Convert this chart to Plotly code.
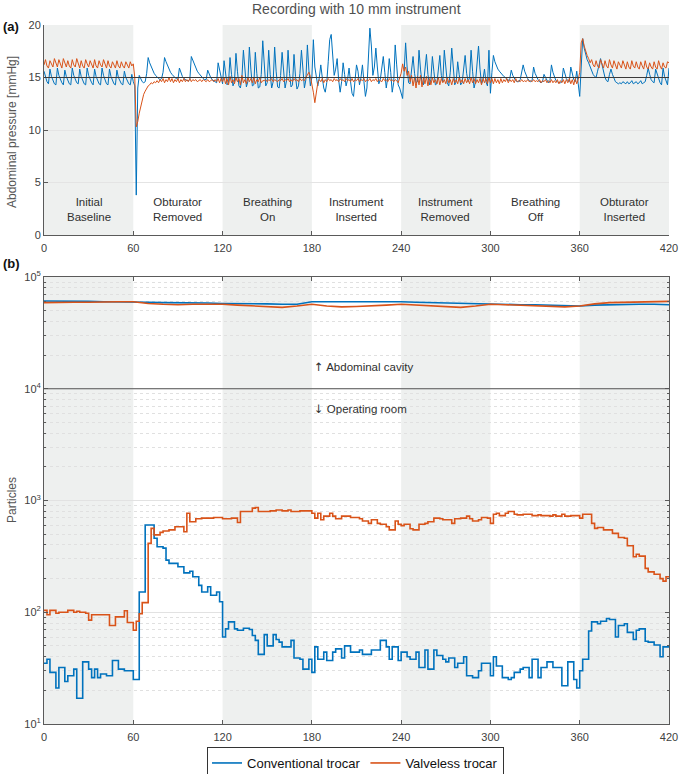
import numpy as np
import plotly.graph_objects as go

# ---------------- data ----------------
phase_edges = [0, 60, 120, 180, 240, 300, 360, 420]
phase_labels = ["Initial<br>Baseline", "Obturator<br>Removed", "Breathing<br>On",
                "Instrument<br>Inserted", "Instrument<br>Removed", "Breathing<br>Off",
                "Obturator<br>Inserted"]
x_ticks = [0, 60, 120, 180, 240, 300, 360, 420]

# Abdominal pressure, 1 s sampling (t = 0..420)
pressure_conventional = [
    15.6, 15.0, 14.6, 14.4, 15.8, 15.1, 14.7, 14.4, 14.3, 15.9,
    15.2, 14.8, 14.5, 14.3, 15.7, 15.1, 14.7, 14.4, 14.3, 15.9,
    15.2, 14.8, 14.5, 14.4, 15.8, 15.1, 14.7, 14.4, 14.3, 15.9,
    15.2, 14.8, 14.5, 14.3, 15.8, 15.1, 14.7, 14.4, 14.3, 15.9,
    15.2, 14.7, 14.4, 14.3, 15.8, 15.1, 14.7, 14.4, 14.3, 15.7,
    15.0, 14.6, 14.4, 14.3, 15.6, 15.0, 14.6, 14.4, 14.3, 15.3,
    14.6, 14.2, 3.8, 14.0, 15.2, 14.8, 14.6, 14.5, 14.6, 15.4,
    16.9, 16.4, 16.0, 15.7, 15.4, 15.2, 15.0, 14.9, 14.8, 14.9,
    15.5, 16.9, 16.5, 16.1, 15.8, 15.5, 15.3, 15.1, 15.0, 14.9,
    14.8, 15.9, 15.4, 15.1, 14.9, 14.8, 14.7, 14.7, 14.8, 17.0,
    16.6, 16.2, 15.9, 15.6, 15.4, 15.2, 15.0, 14.9, 14.8, 14.8,
    15.7, 15.3, 15.0, 14.8, 14.7, 14.6, 14.5, 16.4, 15.6, 14.8,
    14.4, 16.6, 15.2, 14.3, 14.5, 16.9, 15.3, 14.2, 14.6, 17.3,
    15.6, 14.2, 14.0, 15.0, 17.6, 15.5, 14.1, 14.6, 17.9, 15.8,
    14.2, 14.3, 17.4, 15.4, 14.0, 14.1, 15.3, 18.5, 15.9, 14.2,
    14.5, 17.6, 15.3, 14.0, 14.6, 17.9, 15.6, 14.1, 14.0, 15.2,
    17.4, 15.2, 14.0, 14.7, 17.6, 15.4, 14.1, 14.3, 17.2, 15.1,
    13.9, 14.2, 15.4, 17.6, 15.3, 14.0, 14.8, 18.1, 15.7, 14.2,
    15.0, 18.6, 16.0, 15.0, 14.2, 15.0, 16.2, 15.0, 14.0, 13.6,
    14.5, 16.5, 18.6, 19.1, 17.2, 15.2, 15.8, 16.8, 14.8, 13.6,
    14.6, 16.4, 15.3, 14.2, 14.8, 15.9, 14.6, 13.5, 13.2, 14.5,
    16.2, 15.6, 14.3, 15.0, 16.2, 14.6, 13.2, 14.0, 17.5, 19.7,
    18.0, 15.2, 16.0, 17.8, 16.0, 14.4, 14.8, 16.2, 17.0, 15.5,
    14.0, 15.0, 16.8, 15.5, 13.6, 14.5, 18.1, 16.2, 14.3, 14.0,
    13.5, 13.0, 15.5, 18.3, 16.0, 14.5, 14.4, 15.5, 17.0, 15.4,
    14.5, 14.6, 17.6, 15.8, 14.5, 14.3, 15.5, 17.2, 15.3, 14.3,
    14.8, 17.0, 15.6, 14.3, 14.4, 15.5, 17.1, 15.2, 14.6, 17.6,
    15.8, 14.5, 14.2, 15.5, 17.8, 15.6, 14.3, 14.6, 16.5, 15.3,
    14.3, 14.5, 15.8, 17.1, 15.4, 14.6, 15.0, 17.6, 15.6, 14.0,
    14.6, 16.2, 18.0, 15.8, 14.4, 14.8, 15.8, 14.6, 14.2, 17.6,
    13.5, 15.5, 17.1, 16.5, 16.1, 15.8, 15.6, 15.4, 15.3, 15.1,
    15.0, 14.8, 14.7, 14.9, 15.7, 15.2, 14.9, 14.7, 14.6, 14.6,
    14.8, 15.5, 16.2, 15.6, 15.2, 14.9, 14.7, 14.6, 14.7, 16.0,
    15.4, 15.0, 14.8, 14.6, 14.5, 14.6, 15.3, 15.0, 14.7, 14.5,
    14.7, 16.2, 15.5, 15.0, 14.7, 14.6, 14.5, 14.5, 14.6, 15.9,
    15.3, 14.9, 14.7, 14.6, 16.0, 15.3, 14.8, 14.6, 15.6, 14.4,
    13.2, 16.0, 18.7, 17.8, 17.2, 16.7, 16.4, 16.0, 15.6, 15.3,
    15.1, 15.0, 15.6, 16.3, 16.8, 16.2, 15.5, 15.0, 14.7, 14.6,
    15.3, 15.8, 15.3, 14.9, 14.6, 14.5, 14.4, 14.5, 14.4, 14.6,
    14.5, 14.4, 14.6, 14.4, 14.5, 14.7, 14.4, 14.5, 14.6, 14.4,
    14.5, 14.7, 14.4, 14.5, 14.6, 15.2, 15.9, 15.3, 14.8, 14.6,
    14.5, 15.8, 15.3, 14.8, 14.5, 14.3, 15.9, 15.1, 14.6, 14.3,
    15.9,
]

pressure_valveless = [
    16.2, 16.7, 16.1, 15.9, 16.6, 16.2, 16.0, 16.8, 16.3, 16.0,
    16.7, 16.2, 15.9, 16.8, 16.3, 16.0, 16.6, 16.1, 15.9, 16.7,
    16.2, 16.0, 16.8, 16.2, 15.9, 16.6, 16.1, 15.9, 16.7, 16.3,
    16.0, 16.6, 16.2, 15.9, 16.7, 16.1, 15.9, 16.6, 16.2, 16.0,
    16.7, 16.2, 15.9, 16.6, 16.1, 15.9, 16.5, 16.2, 15.9, 16.6,
    16.1, 15.9, 16.5, 16.1, 15.9, 16.5, 16.2, 15.9, 16.5, 16.1,
    16.3, 15.0, 10.3, 10.8, 11.6, 12.3, 12.9, 13.4, 13.7, 14.0,
    14.2, 14.3, 14.5, 14.4, 14.6, 14.5, 14.7, 14.5, 14.8, 14.6,
    14.9, 14.5, 14.8, 14.6, 15.0, 14.6, 14.9, 14.5, 14.8, 14.6,
    14.9, 14.5, 14.8, 14.6, 14.9, 14.6, 14.8, 14.6, 14.9, 14.6,
    14.8, 14.7, 14.8, 14.6, 14.7, 14.8, 14.6, 14.8, 14.7, 14.6,
    14.8, 14.6, 14.7, 14.8, 14.6, 14.8, 14.6, 14.9, 14.5, 14.9,
    14.6, 15.0, 14.4, 14.9, 14.3, 15.1, 14.5, 14.8, 14.4, 15.0,
    14.6, 14.9, 14.3, 15.2, 14.5, 14.8, 14.4, 15.0, 14.6, 14.9,
    14.5, 15.0, 14.4, 14.8, 14.6, 15.0, 14.5, 14.7, 14.7, 14.8,
    14.6, 14.8, 14.7, 14.9, 14.6, 14.8, 14.7, 14.6, 14.8, 14.7,
    14.9, 14.6, 14.8, 14.7, 14.9, 14.6, 14.8, 14.6, 14.9, 14.7,
    14.8, 14.6, 14.9, 14.7, 14.8, 14.7, 15.0, 15.3, 15.5, 15.1,
    14.4, 13.6, 12.6, 13.8, 14.5, 14.8, 14.6, 14.9, 14.5, 14.8,
    14.6, 14.9, 14.7, 14.8, 14.6, 14.9, 14.7, 14.8, 14.6, 14.9,
    14.7, 14.8, 14.6, 14.9, 14.7, 14.8, 14.6, 14.9, 14.6, 14.8,
    14.7, 14.9, 14.6, 14.8, 14.7, 14.9, 14.6, 14.8, 14.7, 14.9,
    14.6, 14.8, 14.7, 14.9, 14.6, 14.8, 14.7, 14.6, 14.9, 14.7,
    14.8, 14.6, 14.9, 14.7, 14.8, 14.6, 14.8, 14.7, 14.5, 14.9,
    15.4, 16.3, 15.6, 16.0, 15.2, 15.6, 14.6, 15.2, 14.2, 15.0,
    14.0, 15.1, 14.3, 15.2, 14.1, 15.0, 14.4, 15.1, 14.2, 14.9,
    14.3, 15.0, 14.5, 14.8, 14.4, 15.0, 14.3, 14.9, 14.5, 14.8,
    14.4, 15.0, 14.5, 14.8, 14.3, 14.9, 14.5, 14.8, 14.4, 15.0,
    14.5, 14.8, 14.4, 14.9, 14.5, 14.8, 14.4, 15.0, 14.5, 14.9,
    14.4, 14.8, 14.5, 14.9, 14.3, 14.9, 14.5, 14.9, 14.4, 15.0,
    14.5, 14.9, 14.4, 14.9, 14.5, 14.8, 14.4, 14.9, 14.5, 14.8,
    14.6, 14.9, 14.5, 14.8, 14.6, 14.8, 14.5, 14.9, 14.6, 14.7,
    14.6, 14.8, 14.6, 14.7, 14.6, 14.8, 14.6, 14.7, 14.6, 14.8,
    14.6, 14.7, 14.6, 14.8, 14.5, 14.7, 14.6, 14.8, 14.5, 14.7,
    14.5, 14.8, 14.5, 14.7, 14.5, 14.8, 14.4, 14.7, 14.5, 14.8,
    14.4, 14.8, 14.5, 14.9, 14.4, 14.8, 14.3, 14.9, 14.4, 14.8,
    15.5, 18.3, 18.7, 18.0, 17.5, 17.1, 16.8, 16.4, 16.7, 16.2,
    16.0, 16.6, 16.1, 15.9, 16.7, 16.2, 15.9, 16.6, 16.1, 15.9,
    16.7, 16.2, 15.9, 16.6, 16.1, 15.8, 16.5, 16.1, 15.9, 16.6,
    16.1, 15.8, 16.5, 16.0, 15.8, 16.6, 16.1, 15.9, 16.5, 16.0,
    15.8, 16.5, 16.1, 15.8, 16.6, 16.0, 15.8, 16.4, 16.0, 15.8,
    16.5, 16.0, 15.8, 16.6, 16.1, 15.8, 16.4, 16.0, 15.9, 16.5,
    16.4,
]

# Particles in operating room, 2 s steps (t = 0, 2, ..., 420)
room_conventional = [
    35, 38, 29, 29, 21, 32, 32, 24, 27, 27,
    31, 17, 17, 36, 36, 31, 26, 31, 26, 28,
    28, 27, 27, 37, 37, 31, 31, 30, 30, 30,
    25, 25, 152, 152, 604, 604, 604, 459, 386, 386,
    375, 293, 274, 274, 274, 255, 255, 225, 225, 233,
    208, 208, 174, 152, 152, 169, 142, 142, 152, 124,
    60, 71, 82, 82, 71, 69, 69, 72, 72, 70,
    62, 56, 42, 42, 63, 50, 50, 63, 57, 54,
    49, 49, 49, 56, 39, 39, 38, 31, 31, 38,
    29, 49, 38, 38, 44, 37, 37, 44, 47, 47,
    39, 50, 50, 44, 44, 44, 46, 42, 42, 42,
    46, 46, 46, 56, 56, 49, 38, 49, 49, 37,
    44, 44, 40, 38, 38, 44, 32, 32, 46, 31,
    31, 46, 41, 41, 38, 36, 39, 39, 32, 35,
    35, 40, 27, 27, 26, 26, 30, 35, 35, 35,
    27, 40, 33, 33, 26, 26, 25, 26, 29, 29,
    31, 32, 32, 26, 38, 38, 26, 32, 32, 36,
    36, 32, 32, 32, 22, 22, 36, 36, 25, 21,
    30, 38, 38, 68, 82, 82, 79, 83, 83, 88,
    86, 86, 60, 76, 76, 79, 66, 66, 57, 69,
    71, 71, 55, 54, 54, 51, 51, 40, 49, 49,
    49,
]
room_valveless = [
    104, 95, 104, 104, 98, 100, 100, 100, 104, 104,
    100, 102, 100, 100, 98, 85, 95, 95, 95, 95,
    95, 95, 76, 76, 91, 91, 91, 103, 81, 81,
    69, 83, 97, 122, 122, 413, 563, 492, 492, 519,
    533, 533, 546, 546, 583, 583, 583, 525, 770, 646,
    646, 686, 686, 695, 695, 695, 695, 705, 705, 705,
    686, 686, 686, 695, 695, 636, 796, 796, 796, 796,
    855, 867, 796, 796, 796, 796, 808, 808, 822, 822,
    808, 808, 822, 796, 796, 796, 808, 808, 808, 808,
    770, 695, 770, 672, 724, 724, 770, 724, 686, 686,
    724, 724, 724, 705, 705, 705, 686, 656, 656, 624,
    672, 672, 624, 613, 613, 583, 546, 546, 656, 613,
    596, 613, 613, 558, 546, 546, 613, 613, 624, 646,
    646, 695, 695, 686, 672, 672, 672, 624, 686, 686,
    695, 695, 724, 686, 656, 656, 672, 705, 705, 695,
    624, 754, 770, 732, 732, 770, 796, 796, 754, 743,
    743, 754, 754, 754, 732, 732, 743, 732, 732, 732,
    724, 743, 724, 724, 754, 724, 724, 732, 732, 732,
    695, 754, 754, 754, 624, 563, 573, 573, 546, 546,
    546, 508, 508, 466, 466, 459, 394, 394, 314, 330,
    318, 318, 247, 230, 230, 219, 219, 200, 190, 208,
    208,
]

# Particles in abdominal cavity, 10 s sampling (t = 0, 10, ..., 420)
cavity_conventional = [
    61000, 61000, 60500, 60500, 60000, 60000, 60000, 59500, 59000, 59000,
    58500, 58500, 58000, 58000, 57500, 57500, 57000, 57000, 60000, 60000,
    60500, 60500, 60500, 60000, 60000, 59500, 59000, 58500, 58000, 57500,
    57000, 57000, 56500, 56500, 56000, 55500, 55000, 56000, 56500, 57000,
    57000, 57000, 56500,
]
cavity_valveless = [
    59000, 59500, 59500, 59500, 60000, 60000, 60000, 58000, 57000, 56500,
    57000, 57000, 57000, 56000, 55000, 54500, 53500, 55000, 57000, 55000,
    54000, 54500, 55000, 56000, 57000, 56000, 55000, 54000, 53500, 55000,
    57000, 56500, 56000, 55500, 54500, 54000, 55000, 57500, 59000, 59500,
    60000, 60000, 60500,
]

for name, arr, n in [("pc", pressure_conventional, 421), ("pv", pressure_valveless, 421),
                     ("rc", room_conventional, 211), ("rv", room_valveless, 211),
                     ("cc", cavity_conventional, 43), ("cv", cavity_valveless, 43)]:
    if len(arr) != n:
        raise ValueError(f"{name}: {len(arr)} != {n}")

t_pressure = np.arange(len(pressure_conventional))
t_room = np.arange(len(room_conventional)) * 2
t_cavity = np.arange(len(cavity_conventional)) * 10

BLUE = "#0072BD"
ORANGE = "#D95319"
FONT = "Liberation Sans, Arial, Helvetica, sans-serif"
TXT = "#404040"

W, H = 685, 774
def px_x(p): return p / W
def px_y(p): return 1 - p / H

xdom = [px_x(44), px_x(669)]
ydom_top = [px_y(235), px_y(25)]
ydom_bot = [px_y(724), px_y(277)]

fig = go.Figure()

# top panel
fig.add_trace(go.Scatter(x=t_pressure, y=pressure_conventional, mode="lines",
                         line=dict(color=BLUE, width=1), name="Conventional trocar",
                         legendgroup="c", showlegend=False, xaxis="x", yaxis="y"))
fig.add_trace(go.Scatter(x=t_pressure, y=pressure_valveless, mode="lines",
                         line=dict(color=ORANGE, width=1), name="Valveless trocar",
                         legendgroup="v", showlegend=False, xaxis="x", yaxis="y"))

# bottom panel
fig.add_trace(go.Scatter(x=t_cavity, y=cavity_conventional, mode="lines",
                         line=dict(color=BLUE, width=1.6), showlegend=False,
                         legendgroup="c", xaxis="x2", yaxis="y2"))
fig.add_trace(go.Scatter(x=t_cavity, y=cavity_valveless, mode="lines",
                         line=dict(color=ORANGE, width=1.6), showlegend=False,
                         legendgroup="v", xaxis="x2", yaxis="y2"))
fig.add_trace(go.Scatter(x=t_room, y=room_conventional, mode="lines", line_shape="hv",
                         line=dict(color=BLUE, width=1.6), name="Conventional trocar",
                         legendgroup="c", showlegend=True, xaxis="x2", yaxis="y2"))
fig.add_trace(go.Scatter(x=t_room, y=room_valveless, mode="lines", line_shape="hv",
                         line=dict(color=ORANGE, width=1.6), name="Valveless trocar",
                         legendgroup="v", showlegend=True, xaxis="x2", yaxis="y2"))

shapes = []
for i in range(0, len(phase_edges) - 1, 2):
    for xr, yr in [("x", "y domain"), ("x2", "y2 domain")]:
        shapes.append(dict(type="rect", xref=xr, yref=yr, x0=phase_edges[i], x1=phase_edges[i + 1],
                           y0=0, y1=1, fillcolor="#EEF0EF", line=dict(width=0), layer="below"))
shapes.append(dict(type="line", xref="x domain", yref="y", x0=0, x1=1, y0=15, y1=15,
                   line=dict(color="#3a3a3a", width=1), layer="above"))
shapes.append(dict(type="line", xref="x2 domain", yref="y2", x0=0, x1=1, y0=1e4, y1=1e4,
                   line=dict(color="#555555", width=1.2), layer="above"))

ARROW = "<span style='font-family:DejaVu Sans'>{}</span>"

annotations = []
for i, lab in enumerate(phase_labels):
    annotations.append(dict(x=(phase_edges[i] + phase_edges[i + 1]) / 2, y=2.45, xref="x", yref="y",
                            text=lab, showarrow=False, xanchor="center", yanchor="middle",
                            font=dict(size=11.5, color="#303030", family=FONT)))
annotations += [
    dict(x=0.52, y=px_y(9), xref="paper", yref="paper", text="Recording with 10 mm instrument",
         showarrow=False, xanchor="center", yanchor="middle",
         font=dict(size=14, color="#505050", family=FONT)),
    dict(x=px_x(1), y=px_y(26), xref="paper", yref="paper", text="<b>(a)</b>", xanchor="left",
         yanchor="middle", showarrow=False, font=dict(size=13, color="#111", family=FONT)),
    dict(x=px_x(1), y=px_y(263), xref="paper", yref="paper", text="<b>(b)</b>", xanchor="left",
         yanchor="middle", showarrow=False, font=dict(size=13, color="#111", family=FONT)),
    dict(x=px_x(12), y=px_y(132), xref="paper", yref="paper", text="Abdominal pressure [mmHg]",
         textangle=-90, showarrow=False, xanchor="center", yanchor="middle",
         font=dict(size=12, color="#555", family=FONT)),
    dict(x=px_x(12), y=px_y(500), xref="paper", yref="paper", text="Particles",
         textangle=-90, showarrow=False, xanchor="center", yanchor="middle",
         font=dict(size=12, color="#555", family=FONT)),
    dict(x=180, y=np.log10(1.55e4), xref="x2", yref="y2",
         text=ARROW.format("↑") + " Abdominal cavity", xanchor="left",
         yanchor="middle", showarrow=False, font=dict(size=11.5, color="#303030", family=FONT)),
    dict(x=180, y=np.log10(6.6e3), xref="x2", yref="y2",
         text=ARROW.format("↓") + " Operating room", xanchor="left",
         yanchor="middle", showarrow=False, font=dict(size=11.5, color="#303030", family=FONT)),
]

decades = [10, 100, 1000, 10000, 100000]
minor_vals = [m * d for d in decades[:-1] for m in range(2, 10)]

axis_common = dict(showline=True, linecolor="#5a5a5a", linewidth=1, ticks="inside", ticklen=4,
                   tickcolor="#5a5a5a", tickfont=dict(size=11, color=TXT, family=FONT),
                   zeroline=False, automargin=False)

fig.update_layout(
    width=W, height=H, margin=dict(l=0, r=0, t=0, b=0, autoexpand=False),
    paper_bgcolor="white", plot_bgcolor="white",
    font=dict(family=FONT, color=TXT),
    shapes=shapes, annotations=annotations,
    xaxis=dict(domain=xdom, range=[0, 420], anchor="y", tickvals=x_ticks, showgrid=False,
               ticklabelstandoff=3, **axis_common),
    yaxis=dict(domain=ydom_top, range=[0, 20], anchor="x", tickvals=[0, 5, 10, 15, 20],
               showgrid=True, gridcolor="#e4e4e4", **axis_common),
    xaxis2=dict(domain=xdom, range=[0, 420], anchor="y2", tickvals=x_ticks, showgrid=False,
                mirror="ticks", ticklabelstandoff=3, **axis_common),
    yaxis2=dict(domain=ydom_bot, type="log", range=[1, 5], anchor="x2", tickvals=decades,
                ticktext=["10<sup>1</sup>", "10<sup>2</sup>", "10<sup>3</sup>", "10<sup>4</sup>", "10<sup>5</sup>"],
                showgrid=True, gridcolor="#e2e2e2", mirror="ticks",
                minor=dict(tickmode="array", tickvals=minor_vals, ticks="inside", ticklen=2,
                           tickcolor="#5a5a5a", showgrid=True, gridcolor="#e0e0e0", griddash="dot"),
                **axis_common),
    legend=dict(orientation="h", x=0.519, xanchor="center", y=px_y(747), yanchor="top",
                bordercolor="#333", borderwidth=1, bgcolor="white",
                font=dict(size=13, color="#111", family=FONT), itemwidth=30,
                tracegroupgap=0),
    showlegend=True,
)

fig.write_html("out.html", config={"displayModeBar": False},
               post_script="document.body.style.margin='0';document.body.style.overflow='hidden';")
